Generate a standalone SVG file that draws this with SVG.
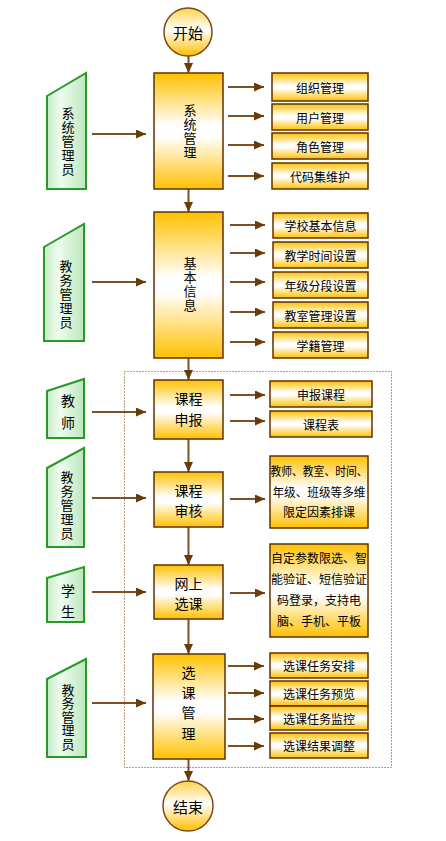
<svg xmlns="http://www.w3.org/2000/svg" width="446" height="841" viewBox="0 0 446 841">
<defs>
<linearGradient id="gBox" x1="0" y1="0" x2="0" y2="1">
<stop offset="0" stop-color="#FFC000"/>
<stop offset="0.45" stop-color="#FFFFFF"/>
<stop offset="0.55" stop-color="#FFFFFF"/>
<stop offset="1" stop-color="#FFC000"/>
</linearGradient>
<linearGradient id="gAct" x1="0" y1="0" x2="1" y2="0">
<stop offset="0" stop-color="#C6EBC6"/>
<stop offset="0.35" stop-color="#EEFDEE"/>
<stop offset="1" stop-color="#BDE6BD"/>
</linearGradient>
<linearGradient id="gCirc" x1="0" y1="0" x2="0" y2="1">
<stop offset="0" stop-color="#FFD24A"/>
<stop offset="0.45" stop-color="#FFFFFF"/>
<stop offset="1" stop-color="#FFBE00"/>
</linearGradient>
<marker id="ah" markerUnits="userSpaceOnUse" markerWidth="10" markerHeight="9" refX="10" refY="4.5" orient="auto">
<path d="M0,0 L10,4.5 L0,9 z" fill="#6B3A0A"/>
</marker>
</defs>
<style>
.box{fill:url(#gBox);stroke:#5E3200;stroke-width:1.5}
.act{fill:url(#gAct);stroke:#289A28;stroke-width:2}
.circ{fill:url(#gCirc);stroke:#7A4A1A;stroke-width:1.5}
.t{font-family:"Noto Sans CJK SC","Noto Sans",sans-serif;fill:#000;text-anchor:middle;dominant-baseline:central}
.vt{font-family:"Noto Sans CJK SC","Noto Sans",sans-serif;fill:#000;text-anchor:middle;writing-mode:vertical-rl;font-size:13px;letter-spacing:1px}
.s{font-size:12px}
.m{font-size:14px}
.c{stroke:#7D5026;stroke-width:2;fill:none;marker-end:url(#ah)}
.dot{fill:none;stroke:#6B3A0A;stroke-width:1;stroke-dasharray:1,2}
</style>
<rect class="dot" x="124.5" y="371.5" width="267" height="396"/>
<g id="connectors">
<line class="c" x1="188.5" y1="56" x2="188.5" y2="73"/>
<line class="c" x1="188.5" y1="189" x2="188.5" y2="212"/>
<line class="c" x1="188.5" y1="358" x2="188.5" y2="380"/>
<line class="c" x1="188.5" y1="439" x2="188.5" y2="472"/>
<line class="c" x1="188.5" y1="527" x2="188.5" y2="565"/>
<line class="c" x1="188.5" y1="619" x2="188.5" y2="654"/>
<line class="c" x1="188.5" y1="759" x2="188.5" y2="781"/>
<line class="c" x1="92" y1="134" x2="146" y2="134"/>
<line class="c" x1="92" y1="282" x2="146" y2="282"/>
<line class="c" x1="92" y1="412" x2="146" y2="412"/>
<line class="c" x1="92" y1="498" x2="146" y2="498"/>
<line class="c" x1="92" y1="592" x2="146" y2="592"/>
<line class="c" x1="92" y1="703" x2="146" y2="703"/>
<line class="c" x1="228" y1="87" x2="264" y2="87"/>
<line class="c" x1="228" y1="116" x2="264" y2="116"/>
<line class="c" x1="228" y1="145" x2="264" y2="145"/>
<line class="c" x1="228" y1="176" x2="264" y2="176"/>
<line class="c" x1="230" y1="225" x2="265" y2="225"/>
<line class="c" x1="230" y1="253" x2="265" y2="253"/>
<line class="c" x1="230" y1="282" x2="265" y2="282"/>
<line class="c" x1="230" y1="312" x2="265" y2="312"/>
<line class="c" x1="230" y1="342" x2="265" y2="342"/>
<line class="c" x1="230" y1="395" x2="265" y2="395"/>
<line class="c" x1="230" y1="421" x2="265" y2="421"/>
<line class="c" x1="230" y1="499" x2="265" y2="499"/>
<line class="c" x1="230" y1="593" x2="265" y2="593"/>
<line class="c" x1="228" y1="666" x2="264" y2="666"/>
<line class="c" x1="228" y1="693" x2="264" y2="693"/>
<line class="c" x1="228" y1="719" x2="264" y2="719"/>
<line class="c" x1="228" y1="746" x2="264" y2="746"/>
</g>
<g id="start"><circle class="circ" cx="188" cy="32" r="24"/><text class="t" x="188" y="32" font-size="15">开始</text></g>
<g id="end"><circle class="circ" cx="188" cy="806" r="25"/><text class="t" x="188" y="806" font-size="15">结束</text></g>

<g id="actor1"><polygon class="act" points="47,96 86,73 86,189 47,189"/>
<text class="vt" x="68" y="142">系统管理员</text></g>
<g id="actor2"><polygon class="act" points="44,247 84,224 84,341 44,341"/>
<text class="vt" x="66" y="295">教务管理员</text></g>
<g id="actor3"><polygon class="act" points="47,391 84,379 84,438 47,438"/>
<text class="t m"><tspan x="68" y="400">教</tspan><tspan x="68" y="422">师</tspan></text></g>
<g id="actor4"><polygon class="act" points="47,468 84,448 84,547 47,547"/>
<text class="vt" x="67" y="506">教务管理员</text></g>
<g id="actor5"><polygon class="act" points="47,578 84,567 84,622 47,622"/>
<text class="t m"><tspan x="68" y="590">学</tspan><tspan x="68" y="611">生</tspan></text></g>
<g id="actor6"><polygon class="act" points="47,679 86,659 86,757 47,757"/>
<text class="vt" x="68" y="717" style="letter-spacing:0.5px">教务管理员</text></g>

<g id="main1"><rect class="box" x="154" y="73" width="69" height="116"/>
<text class="vt" x="190" y="132">系统管理</text></g>
<g id="main2"><rect class="box" x="154" y="212" width="69" height="146"/>
<text class="vt" x="190" y="285">基本信息</text></g>
<g id="main3"><rect class="box" x="154" y="380" width="69" height="59"/>
<text class="t m"><tspan x="188.5" y="398">课程</tspan><tspan x="188.5" y="419">申报</tspan></text></g>
<g id="main4"><rect class="box" x="154" y="472" width="69" height="55"/>
<text class="t m"><tspan x="188.5" y="490">课程</tspan><tspan x="188.5" y="510">审核</tspan></text></g>
<g id="main5"><rect class="box" x="154" y="565" width="69" height="54"/>
<text class="t m"><tspan x="188.5" y="583">网上</tspan><tspan x="188.5" y="603">选课</tspan></text></g>
<g id="main6"><rect class="box" x="153" y="654" width="72" height="105"/>
<text class="t m"><tspan x="188.5" y="672">选</tspan><tspan x="188.5" y="692">课</tspan><tspan x="188.5" y="712">管</tspan><tspan x="188.5" y="733">理</tspan></text></g>

<g id="s1a"><rect class="box" x="272" y="73" width="96" height="28"/><text class="t s" x="320" y="87">组织管理</text></g>
<g id="s1b"><rect class="box" x="272" y="104" width="96" height="26"/><text class="t s" x="320" y="117">用户管理</text></g>
<g id="s1c"><rect class="box" x="272" y="133" width="96" height="26"/><text class="t s" x="320" y="146">角色管理</text></g>
<g id="s1d"><rect class="box" x="272" y="163" width="96" height="26"/><text class="t s" x="320" y="176">代码集维护</text></g>

<g id="s2a"><rect class="box" x="273" y="213" width="95" height="25"/><text class="t s" x="320.5" y="225.5">学校基本信息</text></g>
<g id="s2b"><rect class="box" x="273" y="242" width="95" height="26"/><text class="t s" x="320.5" y="255">教学时间设置</text></g>
<g id="s2c"><rect class="box" x="273" y="272" width="95" height="26"/><text class="t s" x="320.5" y="285">年级分段设置</text></g>
<g id="s2d"><rect class="box" x="273" y="302" width="95" height="26"/><text class="t s" x="320.5" y="315">教室管理设置</text></g>
<g id="s2e"><rect class="box" x="273" y="332" width="95" height="26"/><text class="t s" x="320.5" y="345">学籍管理</text></g>

<g id="s3a"><rect class="box" x="270" y="381" width="102" height="26"/><text class="t s" x="321" y="394">申报课程</text></g>
<g id="s3b"><rect class="box" x="270" y="411" width="102" height="26"/><text class="t s" x="321" y="424">课程表</text></g>

<g id="s4"><rect class="box" x="270" y="456" width="98" height="72"/>
<text class="t s"><tspan x="319" y="470" textLength="97" lengthAdjust="spacingAndGlyphs">教师、教室、时间、</tspan><tspan x="319" y="491" textLength="93" lengthAdjust="spacingAndGlyphs">年级、班级等多维</tspan><tspan x="319" y="511">限定因素排课</tspan></text></g>

<g id="s5"><rect class="box" x="270" y="544" width="98" height="93"/>
<text class="t s"><tspan x="319" y="557">自定参数限选、智</tspan><tspan x="319" y="578">能验证、短信验证</tspan><tspan x="319" y="599">码登录，支持电</tspan><tspan x="319" y="620">脑、手机、平板</tspan></text></g>

<g id="s6a"><rect class="box" x="270" y="653" width="98" height="25"/><text class="t s" x="319" y="665.5">选课任务安排</text></g>
<g id="s6b"><rect class="box" x="270" y="681" width="98" height="25"/><text class="t s" x="319" y="693.5">选课任务预览</text></g>
<g id="s6c"><rect class="box" x="270" y="706" width="98" height="24"/><text class="t s" x="319" y="718">选课任务监控</text></g>
<g id="s6d"><rect class="box" x="270" y="733" width="98" height="25"/><text class="t s" x="319" y="745.5">选课结果调整</text></g>
</svg>
